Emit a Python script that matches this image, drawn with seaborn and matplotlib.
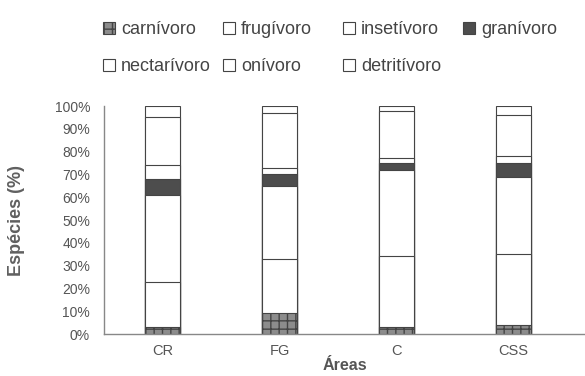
import numpy as np
import pandas as pd
import matplotlib
matplotlib.use('Agg')
import matplotlib.pyplot as plt
import seaborn as sns
from matplotlib.patches import Patch

# dados (percentagem de espécies por guilda)
areas = ['CR', 'FG', 'C', 'CSS']
guildas = ['carnívoro', 'frugívoro', 'insetívoro', 'granívoro',
           'nectarívoro', 'onívoro', 'detritívoro']
carnivoro = [3, 9, 3, 4]
frugivoro = [20, 24, 31, 31]
insetivoro = [38, 32, 38, 34]
granivoro = [7, 5, 3, 6]
nectarivoro = [6, 3, 2, 3]
onivoro = [21, 24, 21, 18]
detritivoro = [5, 3, 2, 4]

sns.set_theme(style='white')
plt.rcParams['font.family'] = ['Liberation Sans', 'DejaVu Sans']

df = pd.DataFrame({
    'carnívoro': carnivoro, 'frugívoro': frugivoro, 'insetívoro': insetivoro,
    'granívoro': granivoro, 'nectarívoro': nectarivoro, 'onívoro': onivoro,
    'detritívoro': detritivoro,
}, index=areas)
cum = df.cumsum(axis=1)

# estilos de cada guilda
estilo = {
    'carnívoro': dict(color='#8c8c8c', hatch='++'),
    'frugívoro': dict(color='white', hatch=None),
    'insetívoro': dict(color='white', hatch=None),
    'granívoro': dict(color='#4d4d4d', hatch=None),
    'nectarívoro': dict(color='white', hatch=None),
    'onívoro': dict(color='white', hatch=None),
    'detritívoro': dict(color='white', hatch=None),
}

fig = plt.figure(figsize=(5.85, 3.76), dpi=100)
ax = fig.add_axes([104 / 585, 42 / 376, 1 - 104 / 585, 228 / 376])

# barras empilhadas: desenhar do topo para a base
for g in guildas[::-1]:
    sns.barplot(x=areas, y=cum[g].values, ax=ax, color=estilo[g]['color'],
                width=0.3, edgecolor='#444444', linewidth=0.8,
                hatch=estilo[g]['hatch'], saturation=1)

ax.set_ylim(0, 100)
ax.set_xlim(-0.5, 3.61)
ax.set_yticks(np.arange(0, 101, 10))
ax.set_yticklabels([f'{v}%' for v in range(0, 101, 10)])
ax.tick_params(axis='both', labelsize=10, labelcolor='#555555', length=0, pad=10)
ax.tick_params(axis='x', labelsize=10.5, pad=7)
for s in ['top', 'right']:
    ax.spines[s].set_visible(False)
for s in ['left', 'bottom']:
    ax.spines[s].set_color('#888888')
    ax.spines[s].set_linewidth(1.0)

ax.set_ylabel('Espécies (%)', fontsize=13, fontweight='bold', color='#606060', labelpad=21)
ax.set_xlabel('Áreas', fontsize=11.5, fontweight='bold', color='#555555', labelpad=0)

# legenda em colunas com posição fixa
handles = [Patch(facecolor=estilo[g]['color'], edgecolor='#444444', linewidth=0.8,
                 hatch=estilo[g]['hatch'], label=g) for g in guildas]
colunas = [[0, 4], [1, 5], [2, 6], [3]]
xs = [103, 223, 343, 463]
for col, x in zip(colunas, xs):
    fig.legend(handles=[handles[i] for i in col], loc='upper left',
               bbox_to_anchor=(x / 585, 1 - 21 / 376), frameon=False,
               fontsize=13, handlelength=0.65, handleheight=0.65,
               handletextpad=0.35, labelspacing=1.12, borderaxespad=0,
               borderpad=0, labelcolor='#444444')

fig.savefig('out.png', dpi=100)
